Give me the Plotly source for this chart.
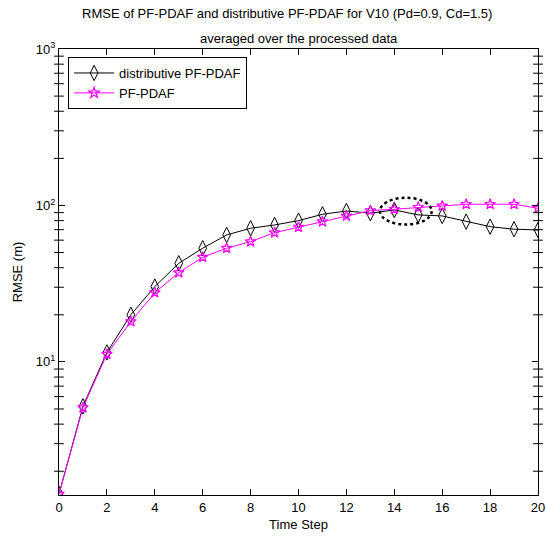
import numpy as np
import plotly.graph_objects as go

# Time steps and averaged RMSE (m) for both filters
time_step = list(range(21))
rmse_distributive = [1.43, 5.2, 11.5, 20.0, 30.3, 42.7, 53.3, 64.8, 71.5, 75.0, 80.0,
                     87.8, 92.2, 89.2, 93.6, 87.0, 85.7, 78.8, 73.2, 70.5, 69.7]
rmse_pf_pdaf = [1.43, 5.1, 11.2, 18.1, 27.7, 37.2, 46.7, 53.3, 58.7, 67.0, 72.6,
                78.8, 85.7, 92.6, 94.6, 97.4, 99.3, 101.8, 101.8, 101.8, 96.0]

x_ticks = list(range(0, 21, 2))
y_major = [10, 100, 1000]
y_major_text = ["10<sup>1</sup>", "10<sup>2</sup>", "10<sup>3</sup>"]
y_range = [1.41, 1000]

# minor log ticks at 2..9 of each decade
y_minor = [m * 10 ** k for k in range(0, 3) for m in range(2, 10)
           if y_range[0] <= m * 10 ** k <= y_range[1]]

FONT = "Liberation Sans, Arial, sans-serif"

fig = go.Figure()
fig.add_trace(go.Scatter(
    x=time_step, y=rmse_distributive, name="distributive PF-PDAF",
    mode="lines+markers",
    line=dict(color="black", width=1),
    marker=dict(symbol="diamond-tall-open", size=11, color="black",
                line=dict(width=1, color="black")),
))
fig.add_trace(go.Scatter(
    x=time_step, y=rmse_pf_pdaf, name="PF-PDAF",
    mode="lines+markers",
    line=dict(color="#ff00ff", width=1),
    marker=dict(symbol="star-open", size=8, color="#ff00ff",
                line=dict(width=1.2, color="#ff00ff")),
))

# minor log ticks on the left and right frame edges, drawn as short dash markers
for edge in (0, 20):
    fig.add_trace(go.Scatter(
        x=[edge] * len(y_minor), y=y_minor, mode="markers",
        marker=dict(symbol="line-ew", size=7, color="black",
                    line=dict(width=1, color="black")),
        cliponaxis=False, showlegend=False, hoverinfo="skip",
    ))

# dotted ellipse highlighting the crossover region
fig.add_shape(type="circle", xref="x", yref="y",
              x0=13.4, x1=15.56, y0=75.5, y1=112.0,
              line=dict(color="black", width=2.5, dash="dot"))

axis_common = dict(
    showline=True, linecolor="black", linewidth=1, mirror="ticks",
    ticks="inside", ticklen=6, tickcolor="black", showgrid=False, zeroline=False,
    tickfont=dict(family=FONT, size=13, color="black"), automargin=False,
)

fig.update_xaxes(
    range=[0, 20], tickvals=x_ticks,
    title=dict(text="Time Step", font=dict(family=FONT, size=13, color="black"), standoff=6),
    **axis_common,
)
fig.update_yaxes(
    type="log", range=[np.log10(y_range[0]), np.log10(y_range[1])],
    tickvals=y_major, ticktext=y_major_text,
    title=dict(text="RMSE (m)", font=dict(family=FONT, size=13, color="black"), standoff=10),
    **axis_common,
)

# two-line title
fig.add_annotation(text="RMSE of PF-PDAF and distributive PF-PDAF for V10 (Pd=0.9, Cd=1.5)",
                   xref="paper", yref="paper", x=0.475, y=1.079, showarrow=False,
                   xanchor="center", yanchor="middle",
                   font=dict(family=FONT, size=13, color="black"))
fig.add_annotation(text="averaged over the processed data",
                   xref="paper", yref="paper", x=0.502, y=1.023, showarrow=False,
                   xanchor="center", yanchor="middle",
                   font=dict(family=FONT, size=13, color="black"))

fig.update_layout(
    width=546, height=545,
    margin=dict(l=59, r=8, t=49, b=50),
    paper_bgcolor="white", plot_bgcolor="white",
    legend=dict(
        x=0.019, y=0.982, xanchor="left", yanchor="top",
        bgcolor="white", bordercolor="black", borderwidth=1,
        font=dict(family=FONT, size=13, color="black"),
        itemwidth=40, tracegroupgap=0,
    ),
    showlegend=True,
)

fig.write_html("out.html")
